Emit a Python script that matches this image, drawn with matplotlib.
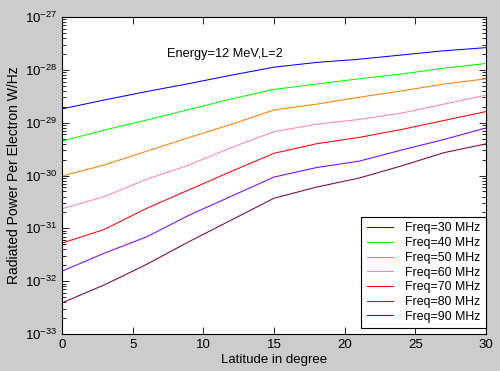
import numpy as np
import matplotlib
matplotlib.use('Agg')
import matplotlib.pyplot as plt
from matplotlib.ticker import FixedLocator, NullFormatter

plt.rcParams['font.family'] = ['Liberation Sans', 'DejaVu Sans']
plt.rcParams['mathtext.fontset'] = 'custom'
plt.rcParams['mathtext.rm'] = 'Liberation Sans'

# latitude samples (degree)
latitude = [0, 3, 6, 9, 12, 15, 18, 21, 24, 27, 30]

# log10 of radiated power per electron (W/Hz)
log_f30 = [-28.74, -28.57, -28.41, -28.26, -28.10, -27.95, -27.86, -27.80, -27.72, -27.64, -27.58]
log_f40 = [-29.35, -29.14, -28.95, -28.75, -28.55, -28.37, -28.27, -28.17, -28.08, -27.97, -27.88]
log_f50 = [-30.01, -29.80, -29.54, -29.28, -29.03, -28.76, -28.65, -28.52, -28.40, -28.27, -28.17]
log_f60 = [-30.63, -30.40, -30.07, -29.80, -29.47, -29.17, -29.03, -28.94, -28.82, -28.65, -28.48]
log_f70 = [-31.28, -31.02, -30.62, -30.27, -29.92, -29.58, -29.40, -29.28, -29.13, -28.96, -28.79]
log_f80 = [-31.81, -31.47, -31.16, -30.75, -30.39, -30.03, -29.85, -29.73, -29.52, -29.32, -29.10]
log_f90 = [-32.41, -32.07, -31.68, -31.25, -30.84, -30.43, -30.22, -30.05, -29.82, -29.57, -29.40]

labels = ['Freq=30 MHz', 'Freq=40 MHz', 'Freq=50 MHz', 'Freq=60 MHz',
          'Freq=70 MHz', 'Freq=80 MHz', 'Freq=90 MHz']
colors = ['#0000ff', '#00ff00', '#ff8000', '#ff80c0', '#ff0000', '#8000ff', '#800040']
series = [log_f30, log_f40, log_f50, log_f60, log_f70, log_f80, log_f90]

decades = [-33, -32, -31, -30, -29, -28, -27]
x_ticks = [0, 5, 10, 15, 20, 25, 30]

fig = plt.figure(figsize=(5, 3.71), dpi=100, facecolor='#cccccc')
ax = fig.add_axes([0.124, 0.0997, 0.848, 0.8545])
ax.set_facecolor('white')

for vals, lab, col in zip(series, labels, colors):
    ax.semilogy(latitude, 10.0 ** np.array(vals), color=col, lw=0.75, label=lab)

ax.set_xlim(0, 30)
ax.set_ylim(1e-33, 1e-27)
ax.set_xticks(x_ticks)
ax.yaxis.set_major_locator(FixedLocator([10.0 ** d for d in decades]))
ax.set_yticklabels([r'$10^{%d}$' % d for d in decades])
minor = [m * 10.0 ** d for d in decades[:-1] for m in range(2, 10)]
ax.yaxis.set_minor_locator(FixedLocator(minor))
ax.yaxis.set_minor_formatter(NullFormatter())
ax.tick_params(which='both', direction='in', top=True, right=True, labelsize=9.5, colors='black')
ax.tick_params(which='major', length=5, width=0.6)
ax.tick_params(which='minor', length=3, width=0.6)
for s in ax.spines.values():
    s.set_linewidth(0.8)

ax.set_xlabel('Latitude in degree', fontsize=9.5, labelpad=2)
ax.set_ylabel('Radiated Power Per Electron W/Hz', fontsize=10, labelpad=3)

ax.text(7.4, 10 ** -27.70, 'Energy=12 MeV,L=2', fontsize=9.2, va='center', ha='left')

leg = ax.legend(loc='lower right', bbox_to_anchor=(1.0, 0.018), fontsize=8.9,
                frameon=True, fancybox=False, edgecolor='black', framealpha=1,
                handlelength=2.1, labelspacing=0.22, borderpad=0.45,
                handletextpad=1.0, borderaxespad=0.0)
leg.get_frame().set_linewidth(0.8)

fig.savefig('out.png', dpi=100, facecolor=fig.get_facecolor())
